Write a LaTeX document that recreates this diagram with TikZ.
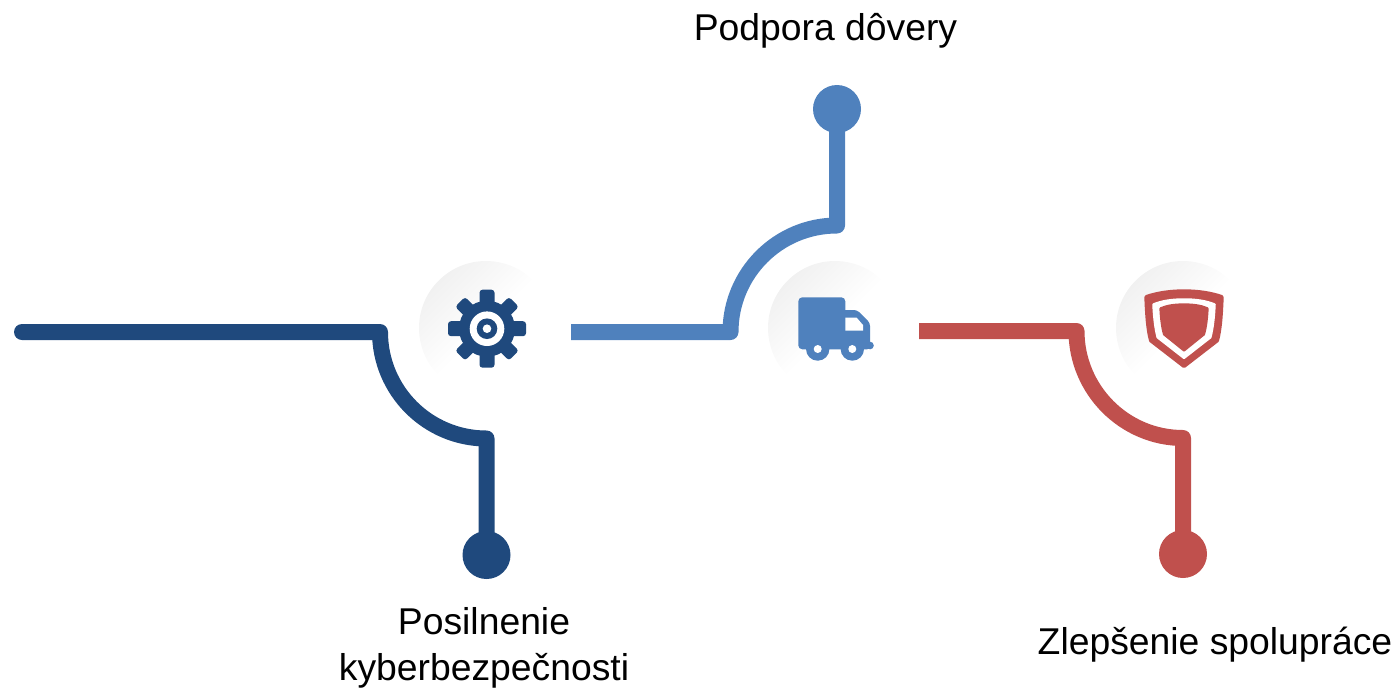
\documentclass[tikz,border=0pt]{standalone}
\usepackage{fontspec}
\setmainfont{Liberation Sans}
\definecolor{navy}{HTML}{1F497D}
\definecolor{midblue}{HTML}{4F81BD}
\definecolor{brick}{HTML}{C0504D}
\definecolor{halo}{HTML}{F1F1F1}
\tikzset{
  track/.style={line width=16pt,line join=round},
  dot/.style={circle,minimum size=48pt,inner sep=0pt,fill=#1},
  haloc/.style={circle,minimum size=134pt,inner sep=0pt,top color=halo,bottom color=white,middle color=white,shading angle=45},
  lab/.style={font=\fontsize{37.3}{46}\selectfont,align=center,text=black,inner sep=0pt},
  blob/.style={fill=#1,draw=#1,line join=round,line width=4pt},
  blobthin/.style={fill=#1,draw=#1,line join=round,line width=2.5pt}
}
\begin{document}
\begin{tikzpicture}[x=1pt,y=-1pt]
\useasboundingbox (0,0) rectangle (1399,689);
% halos
\node[haloc] (h1) at (486,328) {};
\node[haloc] (h2) at (835,328) {};
\node[haloc] (h3) at (1183,328) {};
% end dots
\node[dot=navy] (d1) at (486.5,555) {};
\node[dot=midblue] (d2) at (837,109) {};
\node[dot=brick] (d3) at (1183,554) {};
% free ends and bends
\coordinate (s1) at (22,332);
\coordinate (b1) at (380,332);
\coordinate (c1) at (486.5,438.5);
\coordinate (s2) at (571,332);
\coordinate (b2) at (730.5,332);
\coordinate (c2) at (837,225.5);
\coordinate (s3) at (919,331);
\coordinate (b3) at (1076.5,331);
\coordinate (c3) at (1183,438);
% connectors
\draw[track,navy,line cap=round] (s1) -- (b1) .. controls +(0,58.8) and +(-58.8,0) .. (c1) -- (d1.center);
\draw[track,midblue] (s2) -- (b2) .. controls +(0,-58.8) and +(-58.8,0) .. (c2) -- (d2.center);
\draw[track,brick] (s3) -- (b3) .. controls +(0,58.8) and +(-58.8,0) .. (c3) -- (d3.center);
% gear
\begin{scope}[shift={(487,328.7)}]
  \fill[navy] (0,0) circle[radius=28];
  \foreach \a in {0,90,180,270}{
    \begin{scope}[rotate=\a]
      \fill[navy,rounded corners=3pt] (-7.5,-39) rectangle (7.5,0);
    \end{scope}
  }
  \foreach \a in {45,135,225,315}{
    \begin{scope}[rotate=\a]
      \fill[navy,rounded corners=3pt] (-7,-38) rectangle (7,0);
    \end{scope}
  }
  \fill[white] (0,0) circle[radius=17.3];
  \fill[navy] (0,0) circle[radius=10.3];
  \fill[white] (0,0) circle[radius=4.3];
\end{scope}
% truck
\fill[midblue,rounded corners=4pt] (798.3,297.3) rectangle (845.3,349.3);
\fill[midblue,rounded corners=3pt] (840,310) -- (857,310) -- (870,323) -- (870,349.3) -- (840,349.3) -- cycle;
\fill[midblue] (870,345.5) circle[radius=3.8];
\fill[midblue] (862,341.7) rectangle (870,349.3);
\fill[midblue] (817.7,349) circle[radius=11.7];
\fill[midblue] (852.3,349) circle[radius=11.7];
\fill[white] (817.7,349) circle[radius=4];
\fill[white] (852.3,349) circle[radius=4];
\fill[white] (845.3,317.7) -- (856.7,317.7) -- (863,325) -- (863,330.7) -- (845.3,330.7) -- cycle;
% shield
\path[blob=brick] (1146.3,297) .. controls (1157,293.3) and (1170,291.3) .. (1184,291.3) .. controls (1198,291.3) and (1211,293.3) .. (1221.7,297) .. controls (1221,315) and (1220,330) .. (1217,340.5) -- (1184,366) -- (1151,340.5) .. controls (1148,330) and (1147,315) .. (1146.3,297) -- cycle;
\path[blobthin=white] (1153.5,304.5) .. controls (1162,301) and (1172,299.5) .. (1184,299.5) .. controls (1196,299.5) and (1206,301) .. (1214.5,304.5) .. controls (1214,315) and (1213,327) .. (1210.3,337.3) -- (1184,357.8) -- (1157.7,337.3) .. controls (1155,327) and (1154,315) .. (1153.5,304.5) -- cycle;
\path[blobthin=brick] (1160.6,308.5) .. controls (1167,305.6) and (1175,304.6) .. (1184,304.6) .. controls (1193,304.6) and (1201,305.6) .. (1207.4,308.5) .. controls (1207,317) and (1206,327) .. (1203.8,334.3) -- (1184,350.3) -- (1164.2,334.3) .. controls (1162,327) and (1161,317) .. (1160.6,308.5) -- cycle;
% labels
\node[lab] (t2) at (825.5,31) {Podpora dôvery};
\node[lab] (t1) at (484,648) {Posilnenie\\kyberbezpečnosti};
\node[lab] (t3) at (1215,645) {Zlepšenie spolupráce};
\end{tikzpicture}
\end{document}
